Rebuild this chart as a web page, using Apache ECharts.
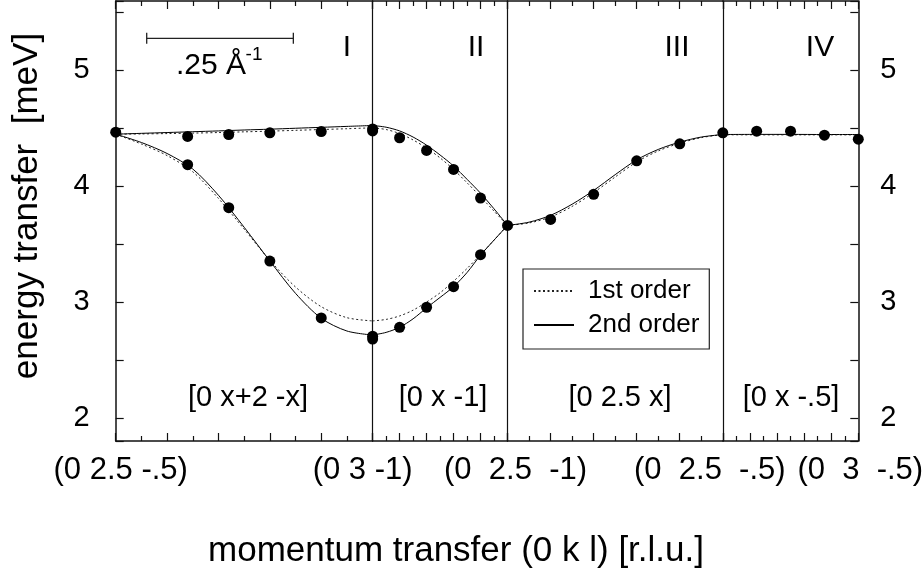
<!DOCTYPE html>
<html><head><meta charset="utf-8">
<script src="https://cdn.jsdelivr.net/npm/echarts@6/dist/echarts.min.js"></script>
<style>html,body{margin:0;padding:0;background:#fff}#c{width:922px;height:578px}</style>
</head><body><div id="c"></div>
<script>
// ---------- sections of the path through reciprocal space ----------
const sectionNames = ['I', 'II', 'III', 'IV'];
const sectionDirs = ['[0 x+2 -x]', '[0 x -1]', '[0 2.5 x]', '[0 x -.5]'];
const sectionRange = [[0.5, 1.0], [2.5, 3.0], [-1.0, -0.5], [2.5, 3.0]];
const sectionInverse = [false, true, false, false];
const sectionLenInvA = [0.438, 0.230, 0.367, 0.231];   // path length of each section in Å^-1
const boundaryLabels = ['(0 2.5 -.5)', '(0 3 -1)', '(0  2.5  -1)', '(0  2.5  -.5)', '(0  3  -.5)'];
const scaleBarInvA = 0.25;

// ---------- model curves (1st / 2nd order) ----------
const s1X = [0.5, 0.55, 0.6, 0.65, 0.7, 0.75, 0.8, 0.85, 0.9, 0.95, 1.0];
const s1UpFirst  = [4.45, 4.452, 4.455, 4.459, 4.464, 4.47, 4.476, 4.483, 4.49, 4.497, 4.505];
const s1UpSecond = [4.45, 4.457, 4.464, 4.471, 4.478, 4.486, 4.493, 4.501, 4.509, 4.517, 4.525];
const s1LoFirst  = [4.45, 4.365, 4.265, 4.125, 3.895, 3.63, 3.36, 3.13, 2.96, 2.865, 2.837];
const s1LoSecond = [4.45, 4.378, 4.283, 4.149, 3.922, 3.646, 3.355, 3.075, 2.86, 2.75, 2.715];

const s2X = [3.0, 2.95, 2.9, 2.85, 2.8, 2.75, 2.7, 2.65, 2.6, 2.55, 2.5];
const s2UpFirst  = [4.505, 4.49, 4.455, 4.40, 4.33, 4.245, 4.145, 4.03, 3.91, 3.785, 3.662];
const s2UpSecond = [4.525, 4.51, 4.478, 4.425, 4.355, 4.27, 4.175, 4.06, 3.94, 3.805, 3.662];
const s2LoFirst  = [2.837, 2.85, 2.88, 2.93, 3.0, 3.08, 3.18, 3.29, 3.41, 3.535, 3.662];
const s2LoSecond = [2.715, 2.738, 2.782, 2.855, 2.95, 3.04, 3.133, 3.255, 3.405, 3.535, 3.662];

const s3X = [-1.0, -0.95, -0.9, -0.85, -0.8, -0.75, -0.7, -0.65, -0.6, -0.55, -0.5];
const s3First  = [3.662, 3.683, 3.735, 3.826, 3.945, 4.08, 4.21, 4.305, 4.372, 4.42, 4.447];
const s3Second = [3.662, 3.69, 3.749, 3.845, 3.964, 4.10, 4.228, 4.318, 4.381, 4.425, 4.447];

const s4X = [2.5, 2.625, 2.75, 2.875, 3.0];
const s4First  = [4.445, 4.444, 4.444, 4.444, 4.444];
const s4Second = [4.447, 4.448, 4.448, 4.447, 4.447];

// ---------- measured points ----------
const p1X = [0.5, 0.64, 0.72, 0.8, 0.9, 1.0, 0.64, 0.72, 0.8, 0.9, 1.0];
const p1E = [4.467, 4.43, 4.447, 4.462, 4.473, 4.495, 4.186, 3.815, 3.354, 2.863, 2.705];
const p2X = [3.0, 2.9, 2.8, 2.7, 2.6, 2.5, 3.0, 2.9, 2.8, 2.7, 2.6];
const p2E = [4.478, 4.419, 4.309, 4.145, 3.898, 3.662, 2.68, 2.782, 2.955, 3.133, 3.409];
const p3X = [-0.9, -0.8, -0.7, -0.6, -0.5];
const p3E = [3.714, 3.930, 4.220, 4.367, 4.462];
const p4X = [2.625, 2.75, 2.875, 3.0];
const p4E = [4.476, 4.476, 4.441, 4.407];

// ---------- layout ----------
const FONT = 'Liberation Sans, Arial, Helvetica, sans-serif';
const plotLeft = 115.7, plotRight = 858.3, plotTop = 1, plotBottom = 441;
const totalLen = sectionLenInvA.reduce((a, b) => a + b, 0);
const pxPer = (plotRight - plotLeft) / totalLen;
const bounds = [plotLeft];
sectionLenInvA.forEach(l => bounds.push(bounds[bounds.length - 1] + l * pxPer));

const zip = (xs, ys) => xs.map((x, i) => [x, ys[i]]);
const curves = [
  [[s1X, s1UpFirst, s1UpSecond], [s1X, s1LoFirst, s1LoSecond]],
  [[s2X, s2UpFirst, s2UpSecond], [s2X, s2LoFirst, s2LoSecond]],
  [[s3X, s3First, s3Second]],
  [[s4X, s4First, s4Second]]
];
const pts = [[p1X, p1E], [p2X, p2E], [p3X, p3E], [p4X, p4E]];
const intLabel = v => (Math.abs(v - Math.round(v)) < 1e-6 ? String(Math.round(v)) : '');

const lineCol = '#111';
const grids = [], xAxes = [], yAxes = [], series = [];
for (let i = 0; i < 4; i++) {
  grids.push({left: bounds[i], width: bounds[i + 1] - bounds[i], top: plotTop, height: plotBottom - plotTop});
  ['bottom', 'top'].forEach(pos => xAxes.push({
    type: 'value', gridIndex: i, position: pos, min: sectionRange[i][0], max: sectionRange[i][1],
    interval: 0.1, inverse: sectionInverse[i],
    axisLine: {show: true, onZero: false, lineStyle: {color: lineCol, width: 1.5}},
    axisTick: {show: true, inside: true, length: 8, lineStyle: {color: lineCol, width: 1.2}},
    minorTick: {show: true, splitNumber: 2, length: 5, lineStyle: {color: lineCol, width: 1.2}},
    axisLabel: {show: false}, splitLine: {show: false}
  }));
  const yBase = {
    type: 'value', gridIndex: i, min: 1.8, max: 5.6, minInterval: 0.5, maxInterval: 0.5,
    splitLine: {show: false},
    axisLine: {show: true, onZero: false, lineStyle: {color: lineCol, width: i === 0 ? 1.5 : 1.2}}
  };
  if (i === 0) {
    yAxes.push(Object.assign({}, yBase, {position: 'left',
      axisTick: {show: true, inside: true, length: 8, lineStyle: {color: lineCol, width: 1.2}},
      axisLabel: {show: true, margin: 26, fontSize: 29, fontFamily: FONT, color: '#000', formatter: intLabel}}));
  } else {
    yAxes.push(Object.assign({}, yBase, {position: 'left', axisTick: {show: false}, axisLabel: {show: false}}));
  }
  curves[i].forEach(([xs, f1, f2]) => {
    series.push({type: 'line', name: '1st order', xAxisIndex: 2 * i, yAxisIndex: i, data: zip(xs, f1),
      smooth: 0.3, symbol: 'none', color: '#222', lineStyle: {type: [2, 2.5], width: 1, color: '#222'}, z: 2});
    series.push({type: 'line', name: '2nd order', xAxisIndex: 2 * i, yAxisIndex: i, data: zip(xs, f2),
      smooth: 0.3, symbol: 'none', color: '#000', lineStyle: {type: 'solid', width: 1, color: '#000'}, z: 3});
  });
  series.push({type: 'scatter', xAxisIndex: 2 * i, yAxisIndex: i, data: zip(pts[i][0], pts[i][1]),
    symbol: 'circle', symbolSize: 11, itemStyle: {color: '#000', opacity: 1}, clip: false, z: 5, silent: true});
}
// right-hand y axis on the last section
yAxes.push({
  type: 'value', gridIndex: 3, position: 'right', min: 1.8, max: 5.6, minInterval: 0.5, maxInterval: 0.5,
  splitLine: {show: false},
  axisLine: {show: true, onZero: false, lineStyle: {color: lineCol, width: 1.5}},
  axisTick: {show: true, inside: true, length: 8, lineStyle: {color: lineCol, width: 1.2}},
  axisLabel: {show: true, margin: 22, fontSize: 29, fontFamily: FONT, color: '#000', formatter: intLabel}
});

// ---------- annotations ----------
const txt = (text, x, y, size, extra) => Object.assign({type: 'text', x: x, y: y, silent: true,
  style: {text: text, fontSize: size, fontFamily: FONT, fill: '#000', align: 'center', verticalAlign: 'middle'}}, extra || {});
const graphic = [];
const romanX = [347, 476, 677, 820];
sectionNames.forEach((n, i) => graphic.push(txt(n, romanX[i], 48, 30)));
const dirX = [248, 443, 620, 791];
sectionDirs.forEach((d, i) => graphic.push(txt(d, dirX[i], 398, 29)));
const labelOffset = [5, -10, 8, -13, 2];
boundaryLabels.forEach((l, i) => graphic.push(txt(l, bounds[i] + labelOffset[i], 470, 31)));
graphic.push(txt('momentum transfer (0 k l) [r.l.u.]', 456, 551, 35));
graphic.push(txt('energy transfer  [meV]', 27, 206, 35, {rotation: Math.PI / 2}));
// scale bar
const sbX0 = 146.7, sbY = 38.3, sbLen = scaleBarInvA * pxPer;
const sbStyle = {stroke: '#222', lineWidth: 1.3};
graphic.push({type: 'line', silent: true, shape: {x1: sbX0, y1: sbY, x2: sbX0 + sbLen, y2: sbY}, style: sbStyle});
graphic.push({type: 'line', silent: true, shape: {x1: sbX0, y1: sbY - 5.5, x2: sbX0, y2: sbY + 5.5}, style: sbStyle});
graphic.push({type: 'line', silent: true, shape: {x1: sbX0 + sbLen, y1: sbY - 5.5, x2: sbX0 + sbLen, y2: sbY + 5.5}, style: sbStyle});
graphic.push(txt('.25 Å', 211, 66, 30));
graphic.push(txt('-1', 254, 55, 19));

const chart = echarts.init(document.getElementById('c'), null, {renderer: 'canvas'});
chart.setOption({
  animation: false,
  backgroundColor: '#fff',
  grid: grids, xAxis: xAxes, yAxis: yAxes, series: series, graphic: graphic,
  legend: {
    data: ['1st order', '2nd order'], orient: 'vertical', left: 523, top: 269,
    padding: [9, 10, 11, 10], itemGap: 8, itemWidth: 40, itemHeight: 14,
    itemStyle: {opacity: 0},
    borderColor: '#222', borderWidth: 1.2, backgroundColor: '#fff', selectedMode: false,
    textStyle: {fontSize: 26, fontFamily: FONT, color: '#000', lineHeight: 26, padding: [0, 0, 0, 9]}
  }
});
</script></body></html>
